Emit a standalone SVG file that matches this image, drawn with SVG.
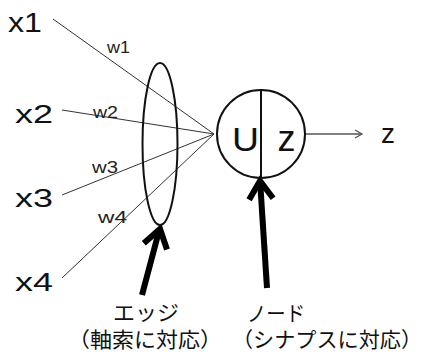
<svg xmlns="http://www.w3.org/2000/svg" width="425" height="356" viewBox="0 0 425 356">
<style>
.lbl{font-family:"Liberation Sans",Arial,sans-serif;fill:#111}
.w{font-family:"Liberation Sans",Arial,sans-serif;font-size:16px;fill:#222}
.jp{font-family:"Liberation Sans","Noto Sans CJK JP",sans-serif;font-size:21px;fill:#111}
.in{stroke:#333;stroke-width:1;fill:none}
.thick{stroke:#000;stroke-width:6;fill:none;stroke-linejoin:miter}
.shape{stroke:#111;stroke-width:2;fill:none}
</style>
<rect width="425" height="356" fill="#fff"/>
<g id="inputs">
<text class="lbl" x="8" y="32" font-size="27" textLength="34" lengthAdjust="spacingAndGlyphs">x1</text>
<text class="lbl" x="15" y="123" font-size="25" textLength="38" lengthAdjust="spacingAndGlyphs">x2</text>
<text class="lbl" x="15" y="207" font-size="25" textLength="38" lengthAdjust="spacingAndGlyphs">x3</text>
<text class="lbl" x="15" y="291" font-size="25" textLength="38" lengthAdjust="spacingAndGlyphs">x4</text>
</g>
<g id="connectors">
<line class="in" x1="53" y1="19" x2="214" y2="134"/>
<line class="in" x1="62" y1="110" x2="214" y2="134"/>
<line class="in" x1="62" y1="195" x2="214" y2="134"/>
<line class="in" x1="62" y1="278" x2="214" y2="134"/>
<line x1="305" y1="134" x2="362" y2="134" stroke="#555" stroke-width="1.3"/>
<polyline points="355,130 362,134 355,138" stroke="#555" stroke-width="1.3" fill="none"/>
<line class="thick" x1="142" y1="295" x2="159" y2="231"/>
<polyline class="thick" points="143.8,243.3 160,229 167,249.5"/>
<line class="thick" x1="267" y1="288" x2="260.2" y2="183"/>
<polyline class="thick" points="249.1,199.8 260,181 273.1,198.2"/>
</g>
<g id="weights">
<text class="w" x="107" y="53" textLength="23" lengthAdjust="spacingAndGlyphs">w1</text>
<text class="w" x="93" y="118" textLength="25" lengthAdjust="spacingAndGlyphs">w2</text>
<text class="w" x="92" y="173" textLength="26" lengthAdjust="spacingAndGlyphs">w3</text>
<text class="w" x="98" y="223" textLength="29" lengthAdjust="spacingAndGlyphs">w4</text>
</g>
<g id="edge">
<ellipse class="shape" cx="160" cy="144" rx="17.5" ry="81"/>
</g>
<g id="node">
<circle class="shape" cx="261" cy="134" r="44"/>
<line class="shape" x1="261" y1="90" x2="261" y2="178"/>
<text class="lbl" x="232" y="151" font-size="33" fill="#222" textLength="27" lengthAdjust="spacingAndGlyphs">U</text>
<text class="lbl" x="277.5" y="151" font-size="36">z</text>
</g>
<g id="output">
<text class="lbl" x="381" y="143" font-size="28">z</text>
</g>
<g id="edge-label">
<text class="jp" x="113" y="320" textLength="66" lengthAdjust="spacingAndGlyphs">エッジ</text>
<text class="jp" x="68" y="347" textLength="154" lengthAdjust="spacingAndGlyphs">（軸索に対応）</text>
</g>
<g id="node-label">
<text class="jp" x="247" y="321" textLength="58" lengthAdjust="spacingAndGlyphs">ノード</text>
<text class="jp" x="232" y="347" textLength="190" lengthAdjust="spacingAndGlyphs">（シナプスに対応）</text>
</g>
</svg>
